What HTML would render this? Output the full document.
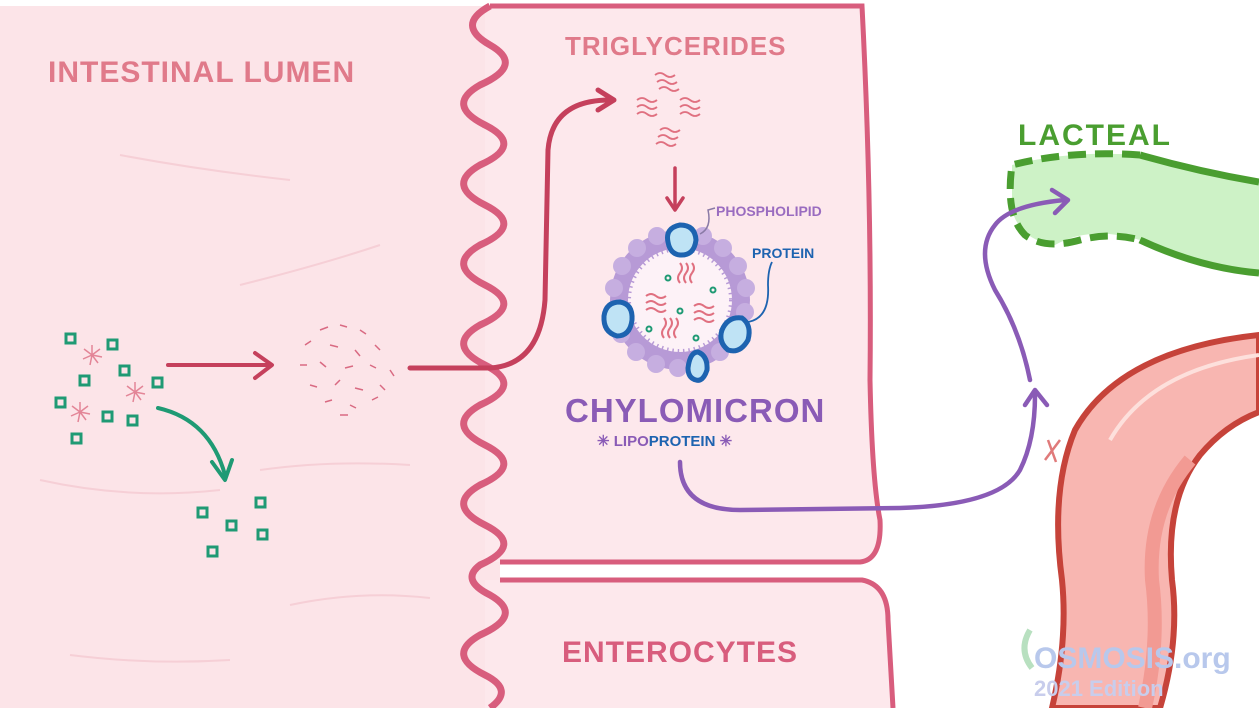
<!DOCTYPE html>
<html><head><meta charset="utf-8"><style>
html,body{margin:0;padding:0;width:1259px;height:708px;overflow:hidden;background:#fff}
svg{display:block}
text{font-family:"Liberation Sans",sans-serif;font-weight:bold}
</style></head><body>
<svg width="1259" height="708" viewBox="0 0 1259 708" xmlns="http://www.w3.org/2000/svg">
<rect x="0" y="0" width="1259" height="708" fill="#fff"/>
<!-- lumen -->
<rect x="0" y="6" width="500" height="702" fill="#fce4e8"/>
<!-- enterocyte cells -->
<path d="M485 6 L862 6 Q872 200 870 380 Q872 480 880 520 Q882 560 860 562 L485 562 Z" fill="#fde8ec"/>
<path d="M490 6 L862 6 Q872 200 870 380 Q872 480 880 520 Q882 560 860 562 L500 562" fill="none" stroke="#d85d7d" stroke-width="5"/>
<path d="M485 580 L862 580 Q888 585 888 620 L893 708 L485 708 Z" fill="#fde8ec"/>
<path d="M500 580 L862 580 Q888 585 888 620 L893 708" fill="none" stroke="#d85d7d" stroke-width="5"/>
<!-- faint lumen lines -->
<g fill="none" stroke="#f6cfd6" stroke-width="2">
<path d="M120 155 Q200 170 290 180"/>
<path d="M240 285 Q320 265 380 245"/>
<path d="M40 480 Q130 500 220 490"/>
<path d="M260 470 Q330 460 410 465"/>
<path d="M290 605 Q360 590 430 598"/>
<path d="M70 655 Q150 665 230 660"/>
</g>
<!-- wavy membrane -->
<path d="M490 6 Q455 25 490 45 Q525 65 480 85 Q445 105 485 125 Q525 145 480 165 Q445 185 485 205 Q525 225 480 245 Q445 265 485 285 Q525 305 480 325 Q445 345 485 365 Q525 385 480 405 Q445 425 485 445 Q525 465 480 485 Q445 505 485 525 Q525 545 480 565 Q460 580 490 595 Q525 615 480 635 Q445 655 485 675 Q515 690 490 708" fill="none" stroke="#d85d7d" stroke-width="7"/>
<!-- labels -->
<text x="48" y="82" font-size="30" fill="#e07a8a" letter-spacing="1">INTESTINAL LUMEN</text>
<text x="565" y="55" font-size="26" fill="#e07a8a" letter-spacing="1">TRIGLYCERIDES</text>
<text x="562" y="662" font-size="30" fill="#d85d7d" letter-spacing="1">ENTEROCYTES</text>
<text x="1018" y="145" font-size="30" fill="#4a9e30" letter-spacing="2">LACTEAL</text>
<!-- lacteal -->
<path d="M1012 165 Q1070 150 1140 155 Q1200 170 1259 180 L1259 275 Q1200 270 1140 240 Q1090 225 1055 245 Q1020 240 1012 210 Z" fill="#cdf2c6"/>
<path d="M1140 155 Q1200 172 1259 182 M1259 273 Q1200 268 1140 240" fill="none" stroke="#4a9e30" stroke-width="7"/>
<path d="M1140 155 Q1070 150 1012 165 Q1005 215 1025 235 Q1045 250 1080 240 Q1110 232 1140 240" fill="none" stroke="#4a9e30" stroke-width="7" stroke-dasharray="18 9"/>
<!-- vessel -->
<path d="M1259 335 Q1120 350 1075 430 Q1050 490 1062 580 Q1068 640 1052 708 L1160 708 Q1180 640 1172 580 Q1165 500 1200 455 Q1225 425 1259 412 Z" fill="#f8b6b1" stroke="#c6433a" stroke-width="6"/>
<path d="M1259 355 Q1150 370 1110 440" fill="none" stroke="#fde0dc" stroke-width="4"/>
<path d="M1145 708 Q1160 640 1152 580 Q1148 510 1190 460" fill="none" stroke="#f29a93" stroke-width="14"/>
<!-- red X -->
<path d="M1045 460 L1060 440 M1048 440 L1056 462" stroke="#e07a7a" stroke-width="2.5" fill="none"/>
<!-- main arrows -->
<g fill="none" stroke-linecap="round" stroke-linejoin="round">
<path d="M168 365 L270 365" stroke="#c5405c" stroke-width="4"/>
<path d="M255 353 L272 365 L255 378" stroke="#c5405c" stroke-width="4"/>
<path d="M410 368 L490 368 Q540 365 545 300 L548 150 Q552 100 610 100" stroke="#c5405c" stroke-width="5"/>
<path d="M598 90 L614 100 L598 110" stroke="#c5405c" stroke-width="5"/>
<path d="M675 168 L675 208" stroke="#c5405c" stroke-width="3.5"/>
<path d="M667 198 L675 210 L683 198" stroke="#c5405c" stroke-width="3.5"/>
<path d="M158 408 Q210 420 225 475" stroke="#1f9a74" stroke-width="4"/>
<path d="M212 462 L225 480 L232 460" stroke="#1f9a74" stroke-width="4"/>
<path d="M680 462 Q680 510 740 510 L900 508 Q1000 505 1020 470 Q1035 440 1035 395" stroke="#8a5bb6" stroke-width="4.5"/>
<path d="M1025 405 L1035 390 L1047 405" stroke="#8a5bb6" stroke-width="4.5"/>
<path d="M1030 380 Q1020 330 995 290 Q975 250 995 225 Q1010 205 1065 200" stroke="#8a5bb6" stroke-width="4.5"/>
<path d="M1052 190 L1068 200 L1055 213" stroke="#8a5bb6" stroke-width="4.5"/>
</g>
<!-- green squares -->
<g fill="none" stroke="#1f9a74" stroke-width="3">
<rect x="66" y="334" width="9" height="9"/><rect x="108" y="340" width="9" height="9"/>
<rect x="80" y="376" width="9" height="9"/><rect x="120" y="366" width="9" height="9"/>
<rect x="153" y="378" width="9" height="9"/><rect x="56" y="398" width="9" height="9"/>
<rect x="103" y="412" width="9" height="9"/><rect x="128" y="416" width="9" height="9"/>
<rect x="72" y="434" width="9" height="9"/><rect x="198" y="508" width="9" height="9"/>
<rect x="256" y="498" width="9" height="9"/><rect x="227" y="521" width="9" height="9"/>
<rect x="258" y="530" width="9" height="9"/><rect x="208" y="547" width="9" height="9"/>
</g>
<!-- micelles bursts -->
<g stroke="#e38597" stroke-width="1.5">
<path d="M92 355 l0 -10 M92 355 l8 -6 M92 355 l10 2 M92 355 l6 8 M92 355 l-2 10 M92 355 l-9 4 M92 355 l-8 -6"/>
<path d="M135 392 l0 -10 M135 392 l8 -6 M135 392 l10 2 M135 392 l6 8 M135 392 l-2 10 M135 392 l-9 4 M135 392 l-8 -6"/>
<path d="M80 412 l0 -10 M80 412 l8 -6 M80 412 l10 2 M80 412 l6 8 M80 412 l-2 10 M80 412 l-9 4 M80 412 l-8 -6"/>
</g>
<!-- fatty acid cloud -->
<g stroke="#d96a82" stroke-width="1.5" fill="none">
<path d="M320 330 l8 -3 M340 325 l7 2 M360 330 l6 4 M305 345 l6 -4 M330 345 l8 2 M355 350 l5 6 M375 345 l5 5 M300 365 l7 0 M320 362 l6 5 M345 368 l8 -2 M370 365 l6 3 M390 370 l4 6 M310 385 l7 2 M335 385 l5 -5 M355 388 l8 2 M380 385 l5 5 M325 402 l7 -2 M350 405 l6 3 M372 400 l6 -3 M340 415 l8 0"/>
</g>
<!-- triglycerides -->
<g stroke="#e07080" stroke-width="1.8" fill="none">
<path d="M655 75 q5 -4 10 0 q5 4 10 0 M657 82 q5 -4 10 0 q5 4 10 0 M659 89 q5 -4 10 0 q5 4 10 0"/>
<path d="M637 100 q5 -4 10 0 q5 4 10 0 M637 107 q5 -4 10 0 q5 4 10 0 M637 114 q5 -4 10 0 q5 4 10 0"/>
<path d="M680 100 q5 -4 10 0 q5 4 10 0 M680 107 q5 -4 10 0 q5 4 10 0 M680 114 q5 -4 10 0 q5 4 10 0"/>
<path d="M660 130 q5 -4 10 0 q5 4 10 0 M658 137 q5 -4 10 0 q5 4 10 0 M656 144 q5 -4 10 0 q5 4 10 0"/>
</g>
<!-- chylomicron -->
<circle cx="680" cy="300" r="70" fill="#b79ad6"/>
<g fill="#c6aee0">
<circle cx="680" cy="232" r="9"/><circle cx="703" cy="236" r="9"/><circle cx="723" cy="248" r="9"/><circle cx="738" cy="266" r="9"/><circle cx="746" cy="288" r="9"/><circle cx="745" cy="312" r="9"/><circle cx="736" cy="334" r="9"/><circle cx="720" cy="352" r="9"/><circle cx="700" cy="364" r="9"/><circle cx="678" cy="368" r="9"/><circle cx="656" cy="364" r="9"/><circle cx="636" cy="352" r="9"/><circle cx="621" cy="334" r="9"/><circle cx="613" cy="312" r="9"/><circle cx="614" cy="288" r="9"/><circle cx="622" cy="266" r="9"/><circle cx="637" cy="248" r="9"/><circle cx="657" cy="236" r="9"/>
</g>
<circle cx="680" cy="300" r="52" fill="#fdf2f7"/>
<circle cx="680" cy="300" r="52" fill="none" stroke="#b79ad6" stroke-width="6" stroke-dasharray="1.5 4"/>
<g stroke="#e07080" stroke-width="2" fill="none">
<path d="M680 283 q-4 -5 0 -10 q4 -5 0 -10 M686 283 q-4 -5 0 -10 q4 -5 0 -10 M692 283 q-4 -5 0 -10 q4 -5 0 -10"/>
<path d="M646 296 q5 -4 10 0 q5 4 10 0 M646 303 q5 -4 10 0 q5 4 10 0 M646 310 q5 -4 10 0 q5 4 10 0"/>
<path d="M694 306 q5 -4 10 0 q5 4 10 0 M694 313 q5 -4 10 0 q5 4 10 0 M694 320 q5 -4 10 0 q5 4 10 0"/>
<path d="M664 338 q-4 -5 0 -10 q4 -5 0 -10 M670 338 q-4 -5 0 -10 q4 -5 0 -10 M676 338 q-4 -5 0 -10 q4 -5 0 -10"/>
</g>
<g fill="none" stroke="#1f9a74" stroke-width="2">
<circle cx="668" cy="278" r="2.5"/><circle cx="713" cy="290" r="2.5"/><circle cx="680" cy="311" r="2.5"/><circle cx="649" cy="329" r="2.5"/><circle cx="696" cy="338" r="2.5"/>
</g>
<g fill="#bfe3f5" stroke="#1d63b0" stroke-width="5">
<path d="M668 242 Q665 228 680 225 Q695 225 696 240 Q694 256 680 255 Q670 254 668 242 Z"/>
<path d="M604 316 Q606 302 620 302 Q633 304 632 320 Q630 336 617 336 Q603 332 604 316 Z"/>
<path d="M722 330 Q728 316 742 318 Q752 325 748 340 Q740 354 728 350 Q718 342 722 330 Z"/>
<path d="M688 368 Q690 352 698 352 Q708 356 707 370 Q703 382 696 380 Q688 378 688 368 Z"/>
</g>
<path d="M700 234 Q712 228 708 210 L715 208" fill="none" stroke="#8a7aa6" stroke-width="1.5"/>
<path d="M748 322 Q770 318 768 285 Q768 270 772 262" fill="none" stroke="#1d63b0" stroke-width="1.8"/>
<text x="716" y="216" font-size="14" font-weight="normal" fill="#9a6cc0">PHOSPHOLIPID</text>
<text x="752" y="258" font-size="14" fill="#1d63b0">PROTEIN</text>
<text x="565" y="422" font-size="33" fill="#8a5bb6" letter-spacing="1">CHYLOMICRON</text>
<text x="597" y="446" font-size="15" font-weight="normal" fill="#8a5bb6">✳ LIPO<tspan font-weight="bold" fill="#1d63b0">PROTEIN</tspan> ✳</text>
<!-- watermark -->
<path d="M1030 630 Q1018 650 1032 668" fill="none" stroke="#b8e0c0" stroke-width="6"/>
<text x="1034" y="668" font-size="30" fill="#b8c8ec">OSMOSIS.org</text>
<text x="1034" y="696" font-size="22" font-weight="normal" fill="#c8cdec">2021 Edition</text>
</svg>
</body></html>
